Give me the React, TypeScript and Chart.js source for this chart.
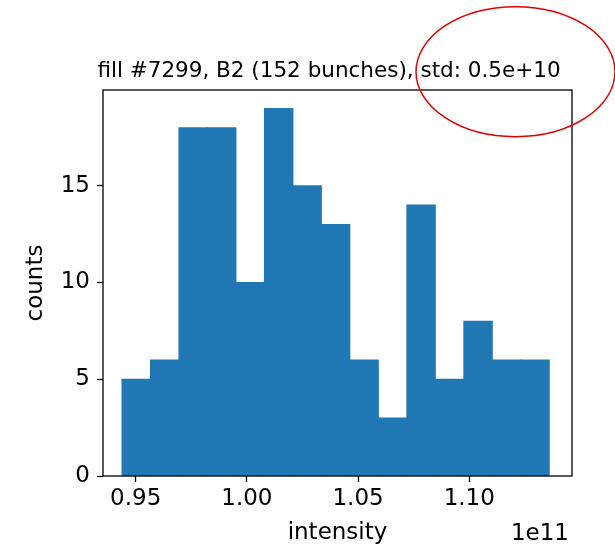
import React, { useEffect, useRef } from "react";
import { Chart, registerables } from "chart.js";

Chart.register(...registerables);

// Histogram bin edges (intensity) and counts
const binEdges = [
  0.94384e11, 0.95665e11, 0.96946e11, 0.98227e11, 0.99508e11, 1.00789e11,
  1.0207e11, 1.0335e11, 1.04631e11, 1.05912e11, 1.07193e11, 1.08474e11,
  1.09755e11, 1.11036e11, 1.12317e11, 1.13597e11,
];
const counts = [5, 6, 18, 18, 10, 19, 15, 13, 6, 3, 14, 5, 8, 6, 6];

const xTickValues = [0.95e11, 1.0e11, 1.05e11, 1.1e11];
const yTickValues = [0, 5, 10, 15];
const xRange = [0.9353e11, 1.1462e11];
const yRange = [0, 19.95];

const titleText = "fill #7299, B2 (152 bunches), std: 0.5e+10";
const xLabel = "intensity";
const yLabel = "counts";
const offsetText = "1e11";

const FONT = "'DejaVu Sans', sans-serif";
const BAR_COLOR = "#1f77b4";

export default function App() {
  const canvasRef = useRef<HTMLCanvasElement | null>(null);

  useEffect(() => {
    const canvas = canvasRef.current;
    if (!canvas) return;

    const points = counts.map((c, i) => ({
      x: (binEdges[i] + binEdges[i + 1]) / 2,
      y: c,
    }));

    const decorPlugin = {
      id: "decor",
      afterDatasetsDraw(chart: any) {
        const { ctx, chartArea } = chart;
        ctx.save();
        ctx.strokeStyle = "#000";
        ctx.lineWidth = 1.3;
        ctx.strokeRect(
          chartArea.left,
          chartArea.top,
          chartArea.right - chartArea.left,
          chartArea.bottom - chartArea.top
        );
        ctx.restore();
      },
      afterDraw(chart: any) {
        const { ctx, chartArea } = chart;
        ctx.save();
        // title
        ctx.fillStyle = "#000";
        ctx.font = `21.5px ${FONT}`;
        ctx.textAlign = "center";
        ctx.textBaseline = "alphabetic";
        ctx.fillText(titleText, (chartArea.left + chartArea.right) / 2 - 8.5, chartArea.top - 13.5);
        // offset text
        ctx.font = `23px ${FONT}`;
        ctx.textAlign = "right";
        ctx.fillText(offsetText, chartArea.right - 3, chartArea.bottom + 64);
        // red ellipse annotation
        ctx.beginPath();
        ctx.strokeStyle = "#e00000";
        ctx.lineWidth = 1.5;
        ctx.ellipse(chartArea.right - 56.5, chartArea.top - 18.3, 99.5, 65, 0, 0, Math.PI * 2);
        ctx.stroke();
        ctx.restore();
      },
    };

    const chart = new Chart(canvas, {
      type: "bar",
      data: {
        datasets: [
          {
            data: points,
            backgroundColor: BAR_COLOR,
            borderWidth: 0,
            inflateAmount: 0.5,
            barPercentage: 1,
            categoryPercentage: 1,
          },
        ],
      },
      options: {
        responsive: false,
        animation: false,
        devicePixelRatio: 1,
        layout: { padding: { top: 90, right: 43, left: 0, bottom: 0 } },
        plugins: {
          legend: { display: false },
          title: { display: false },
          tooltip: { enabled: false },
        },
        scales: {
          x: {
            type: "linear",
            offset: false,
            min: xRange[0],
            max: xRange[1],
            afterFit: (scale: any) => {
              scale.height = 71;
            },
            afterBuildTicks: (scale: any) => {
              scale.ticks = xTickValues.map((v) => ({ value: v }));
            },
            border: { display: false },
            grid: {
              display: true,
              offset: false,
              drawOnChartArea: false,
              drawTicks: true,
              tickLength: 6,
              tickWidth: 1.3,
              tickColor: "#000",
            },
            ticks: {
              color: "#000",
              font: { family: FONT, size: 23 },
              padding: 3,
              maxRotation: 0,
              autoSkip: false,
              callback: (v: any) => (Number(v) / 1e11).toFixed(2),
            },
            title: {
              display: true,
              text: xLabel,
              color: "#000",
              font: { family: FONT, size: 23 },
              padding: { top: 0, bottom: 0 },
            },
          },
          y: {
            type: "linear",
            min: yRange[0],
            max: yRange[1],
            afterFit: (scale: any) => {
              scale.width = 103;
            },
            afterBuildTicks: (scale: any) => {
              scale.ticks = yTickValues.map((v) => ({ value: v }));
            },
            border: { display: false },
            grid: {
              display: true,
              drawOnChartArea: false,
              drawTicks: true,
              tickLength: 6,
              tickWidth: 1.3,
              tickColor: "#000",
            },
            ticks: {
              color: "#000",
              font: { family: FONT, size: 23 },
              padding: 7,
              autoSkip: false,
              callback: (v: any) => String(v),
            },
            title: {
              display: true,
              text: yLabel,
              color: "#000",
              font: { family: FONT, size: 23 },
              padding: { top: 22, bottom: 0 },
            },
          },
        },
      },
      plugins: [decorPlugin],
    });

    return () => chart.destroy();
  }, []);

  return (
    <div style={{ position: "absolute", left: 0, top: 0, width: 615, height: 547 }}>
      <canvas ref={canvasRef} width={615} height={547} />
    </div>
  );
}
